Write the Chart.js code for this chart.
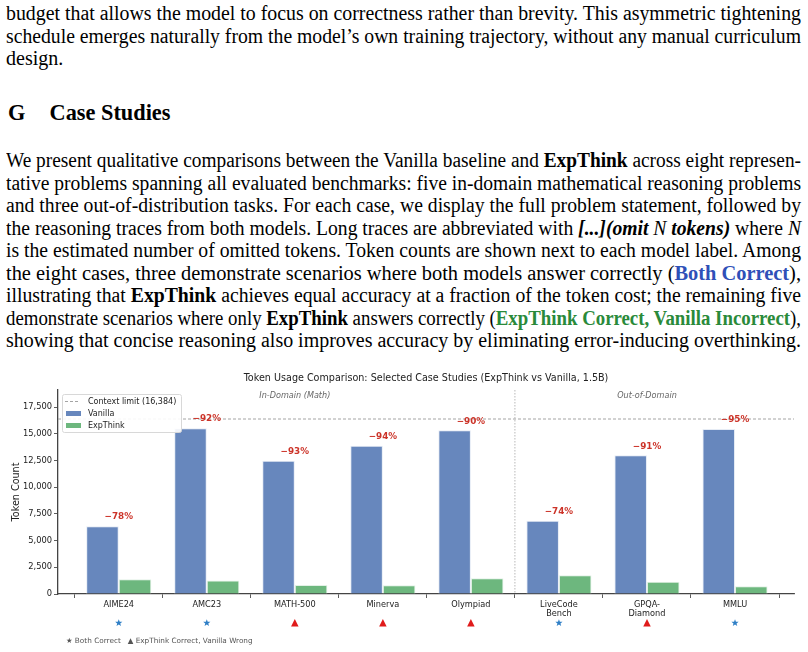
<!DOCTYPE html>
<html><head><meta charset="utf-8">
<script src="https://cdn.jsdelivr.net/npm/chart.js@4/dist/chart.umd.min.js"></script>
<style>
html,body{margin:0;padding:0;background:#fff;width:808px;height:652px;overflow:hidden;}
.blk{position:absolute;left:6px;width:1000px;font-family:"Liberation Serif","Times New Roman",serif;font-size:20px;color:#000;}
.l{height:22.5px;line-height:22.5px;white-space:nowrap;}
.l > span{display:inline-block;transform-origin:0 0;}
.h{position:absolute;left:8px;top:99px;transform:scaleX(0.93);transform-origin:0 0;font-family:"Liberation Serif",serif;font-weight:bold;font-size:24px;line-height:26px;}
b{font-weight:bold;}
.blue{color:#2f50b8;font-weight:bold;}
.green{color:#2a8a3a;font-weight:bold;}
#wrap{position:absolute;left:0;top:365px;width:808px;height:287px;}
</style></head>
<body>
<div class="blk" style="top:2px">
<div class="l"><span>budget that allows the model to focus on correctness rather than brevity. This asymmetric tightening</span></div>
<div class="l"><span>schedule emerges naturally from the model’s own training trajectory, without any manual curriculum</span></div>
<div class="l last"><span>design.</span></div>
</div>
<div class="h">G<span style="display:inline-block;width:26px"></span>Case Studies</div>
<div class="blk" style="top:149px">
<div class="l"><span>We present qualitative comparisons between the Vanilla baseline and <b>ExpThink</b> across eight represen-</span></div>
<div class="l"><span>tative problems spanning all evaluated benchmarks: five in-domain mathematical reasoning problems</span></div>
<div class="l"><span>and three out-of-distribution tasks. For each case, we display the full problem statement, followed by</span></div>
<div class="l"><span>the reasoning traces from both models. Long traces are abbreviated with <b><i>[...](omit </i></b><i>N</i><b><i> tokens)</i></b> where <i>N</i></span></div>
<div class="l"><span>is the estimated number of omitted tokens. Token counts are shown next to each model label. Among</span></div>
<div class="l"><span>the eight cases, three demonstrate scenarios where both models answer correctly (<span class="blue">Both Correct</span>),</span></div>
<div class="l"><span>illustrating that <b>ExpThink</b> achieves equal accuracy at a fraction of the token cost; the remaining five</span></div>
<div class="l"><span>demonstrate scenarios where only <b>ExpThink</b> answers correctly (<span class="green">ExpThink Correct, Vanilla Incorrect</span>),</span></div>
<div class="l"><span>showing that concise reasoning also improves accuracy by eliminating error-inducing overthinking.</span></div>
</div>
<div id="wrap"><canvas id="c" width="808" height="287"></canvas></div>
<script>
// fit each typeset line to the text width (795px)
document.querySelectorAll('.l').forEach(d => {
  if (d.classList.contains('last')) return;
  const s = d.firstElementChild;
  const w = s.getBoundingClientRect().width;
  s.style.transform = 'scaleX(' + (795 / w) + ')';
});

const categories = ['AIME24','AMC23','MATH-500','Minerva','Olympiad','LiveCode\nBench','GPQA-\nDiamond','MMLU'];
const vanillaTokens = [6350, 15530, 12470, 13880, 15320, 6850, 12980, 15440];
const expThinkTokens = [1380, 1260, 850, 820, 1470, 1760, 1140, 730];
const reductionLabels = ['\u221278%','\u221292%','\u221293%','\u221294%','\u221290%','\u221274%','\u221291%','\u221295%'];
const outcomes = ['both','both','exp','exp','exp','both','exp','both'];
const yTickValues = [0, 2500, 5000, 7500, 10000, 12500, 15000, 17500];
const contextLimit = 16384;
const domainSplitAt = 4.5;
const domainNames = ['In-Domain (Math)', 'Out-of-Domain'];
const domainCenters = [2, 6];

const VAN = '#6787bd', EXP = '#6db77e';
const FONT = '"DejaVu Sans", sans-serif';

function starPath(ctx, cx, cy, R, r){
  ctx.beginPath();
  for (let k=0;k<10;k++){
    const ang = -Math.PI/2 + k*Math.PI/5;
    const rad = k%2===0 ? R : r;
    const px = cx + rad*Math.cos(ang), py = cy + rad*Math.sin(ang);
    if(k===0) ctx.moveTo(px,py); else ctx.lineTo(px,py);
  }
  ctx.closePath();
}
function triPath(ctx, cx, cy, s){
  ctx.beginPath();
  ctx.moveTo(cx, cy - s*0.55);
  ctx.lineTo(cx + s*0.5, cy + s*0.45);
  ctx.lineTo(cx - s*0.5, cy + s*0.45);
  ctx.closePath();
}

const overlay = {
  id:'overlay',
  afterDatasetsDraw(chart){
    const ctx = chart.ctx, a = chart.chartArea, xs = chart.scales.x, ys = chart.scales.y;
    ctx.save();
    const yl = ys.getPixelForValue(contextLimit);
    ctx.strokeStyle = '#9a9a9a'; ctx.lineWidth = 0.9; ctx.setLineDash([3,2]);
    ctx.beginPath(); ctx.moveTo(a.left, yl); ctx.lineTo(a.right, yl); ctx.stroke();
    const xsep = xs.getPixelForValue(domainSplitAt);
    ctx.strokeStyle = '#b0b0b0'; ctx.lineWidth = 0.9; ctx.setLineDash([1.5,1.5]);
    ctx.beginPath(); ctx.moveTo(xsep, a.top); ctx.lineTo(xsep, a.bottom); ctx.stroke();
    ctx.setLineDash([]);
    ctx.fillStyle = '#666'; ctx.font = 'italic 8.1px ' + FONT; ctx.textAlign = 'center'; ctx.textBaseline = 'middle';
    domainNames.forEach((n,i)=> ctx.fillText(n, xs.getPixelForValue(domainCenters[i]), a.top + 6));
    ctx.fillStyle = '#cc3328'; ctx.font = 'bold 8.8px ' + FONT;
    reductionLabels.forEach((t,i)=> ctx.fillText(t, xs.getPixelForValue(i), ys.getPixelForValue(vanillaTokens[i]) - 9));
    const lx = 62, ly = 29, lw = 119, lh = 38;
    ctx.fillStyle = 'rgba(255,255,255,0.9)'; ctx.strokeStyle = '#d8d8d8'; ctx.lineWidth = 1;
    ctx.beginPath(); ctx.roundRect(lx+0.5, ly+0.5, lw, lh, 2); ctx.fill(); ctx.stroke();
    ctx.strokeStyle = '#9a9a9a'; ctx.lineWidth = 0.9; ctx.setLineDash([3,2]);
    ctx.beginPath(); ctx.moveTo(65, 36.5); ctx.lineTo(80, 36.5); ctx.stroke(); ctx.setLineDash([]);
    ctx.fillStyle = VAN; ctx.fillRect(66, 46, 15, 5);
    ctx.fillStyle = EXP; ctx.fillRect(66, 58, 15, 5);
    ctx.fillStyle = '#222'; ctx.font = '8px ' + FONT; ctx.textAlign = 'left';
    ctx.fillText('Context limit (16,384)', 88, 36.8);
    ctx.fillText('Vanilla', 88, 48.5);
    ctx.fillText('ExpThink', 88, 60.5);
    outcomes.forEach((o,i)=>{
      const cx = xs.getPixelForValue(i), cy = 258;
      if(o==='both'){ starPath(ctx, cx, cy, 3.8, 1.6); ctx.fillStyle = '#2f7fc6'; ctx.fill(); }
      else { triPath(ctx, cx, cy, 7.5); ctx.fillStyle = '#e01b1b'; ctx.fill(); }
    });
    ctx.fillStyle = '#555'; ctx.font = '7.3px ' + FONT; ctx.textAlign = 'left';
    ctx.fillText('\u2605 Both Correct   \u25B2 ExpThink Correct, Vanilla Wrong', 66, 276);
    ctx.fillStyle = '#222'; ctx.font = '9.6px ' + FONT; ctx.textAlign = 'center';
    ctx.fillText('Token Usage Comparison: Selected Case Studies (ExpThink vs Vanilla, 1.5B)', (a.left + a.right)/2, 13);
    ctx.save(); ctx.translate(16.5, (a.top + a.bottom)/2); ctx.rotate(-Math.PI/2);
    ctx.font = '9.6px ' + FONT; ctx.fillStyle = '#222'; ctx.textAlign = 'center';
    ctx.fillText('Token Count', 0, 0); ctx.restore();
    ctx.restore();
  }
};

new Chart(document.getElementById('c'), {
  type: 'bar',
  data: {
    datasets: [
      { label:'Vanilla', data: vanillaTokens.map((v,i)=>({x:i, y:v})), backgroundColor: VAN,
        borderColor:'#e6ecf5', borderWidth:{left:1,right:1,top:1}, categoryPercentage:0.74, barPercentage:1 },
      { label:'ExpThink', data: expThinkTokens.map((v,i)=>({x:i, y:v})), backgroundColor: EXP,
        borderColor:'#e3f1e6', borderWidth:{left:1,right:1,top:1}, categoryPercentage:0.74, barPercentage:1 }
    ]
  },
  options: {
    responsive:false, animation:false, devicePixelRatio:1,
    layout:{ padding:{ left:0, right:14, top:25, bottom:0 } },
    plugins:{ legend:{display:false}, tooltip:{enabled:false}, title:{display:false} },
    scales:{
      x:{ type:'linear', min:-0.69, max:7.67, offset:false,
        afterBuildTicks: s => { s.ticks = categories.map((c,i)=>({value:i})); },
        afterFit: s => { s.height = 58; },
        grid:{ display:true, drawOnChartArea:false, drawTicks:true, tickLength:4, color:'#333', lineWidth:0.8 },
        border:{ display:true, color:'#444', width:1.3 },
        ticks:{ callback: v => (categories[v] !== undefined ? categories[v].split('\n') : ''),
          font:{ family:'DejaVu Sans', size:8.2, lineHeight:1.15 }, color:'#222', padding:2, maxRotation:0, autoSkip:false }
      },
      y:{ type:'linear', min:0, max:19100,
        afterBuildTicks: s => { s.ticks = yTickValues.map(v=>({value:v})); },
        afterFit: s => { s.width = 58; },
        grid:{ display:true, drawOnChartArea:false, drawTicks:true, tickLength:4, color:'#333', lineWidth:0.8 },
        border:{ display:true, color:'#444', width:1.3 },
        ticks:{ callback: v => v.toLocaleString('en-US'), font:{ family:'DejaVu Sans', size:8.3 }, color:'#222', padding:2 }
      }
    }
  },
  plugins:[overlay]
});
</script>
</body></html>
